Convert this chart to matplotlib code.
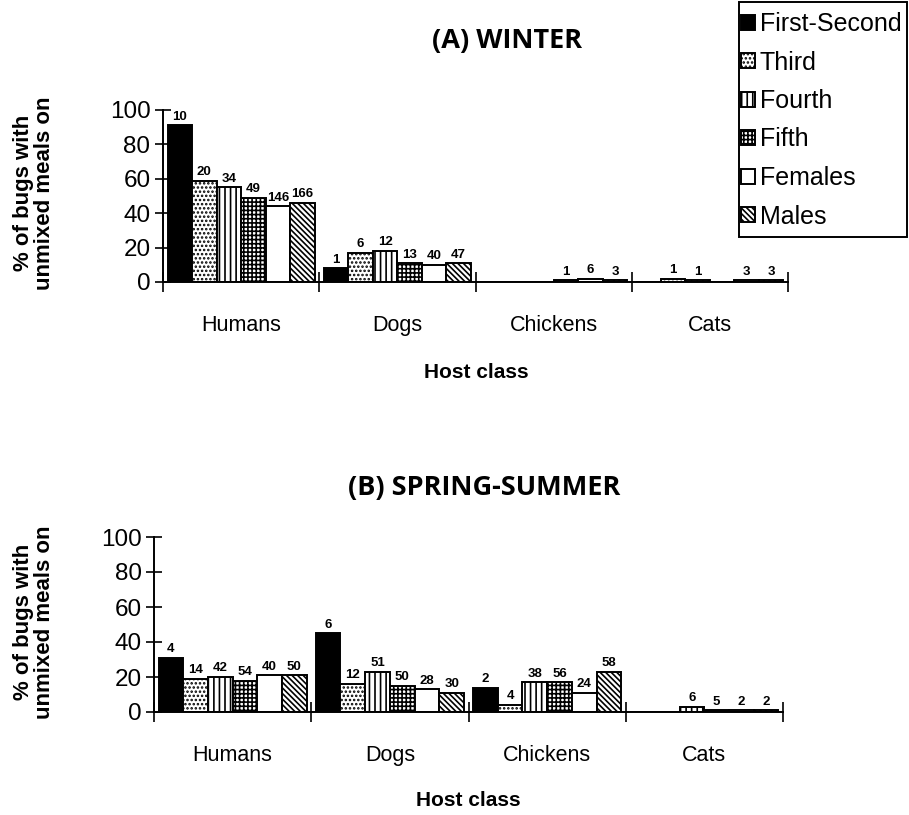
import numpy as np
import matplotlib
matplotlib.use("Agg")
import matplotlib.pyplot as plt
from matplotlib.patches import Patch, Rectangle

# host classes and instar / sex groups
hosts = ["Humans", "Dogs", "Chickens", "Cats"]
stages = ["First-Second", "Third", "Fourth", "Fifth", "Females", "Males"]

# % of bugs with unmixed meals, rows = stages, cols = hosts
winter_pct = [
    [91, 8, 0, 0],    # First-Second
    [59, 17, 0, 2],   # Third
    [55, 18, 0, 1],   # Fourth
    [49, 11, 1, 0],   # Fifth
    [44, 10, 2, 1],   # Females
    [46, 11, 1, 1],   # Males
]
winter_n = [
    ["10", "1", "", ""],
    ["20", "6", "", "1"],
    ["34", "12", "", "1"],
    ["49", "13", "1", ""],
    ["146", "40", "6", "3"],
    ["166", "47", "3", "3"],
]

spring_pct = [
    [31, 45, 14, 0],
    [19, 16, 4, 0],
    [20, 23, 17, 3],
    [18, 15, 17, 1],
    [21, 13, 11, 1],
    [21, 11, 23, 1],
]
spring_n = [
    ["4", "6", "2", ""],
    ["14", "12", "4", ""],
    ["42", "51", "38", "6"],
    ["54", "50", "56", "5"],
    ["40", "28", "24", "2"],
    ["50", "30", "58", "2"],
]

# fill styles for each stage
faces = ["black", "white", "white", "white", "white", "white"]
hatches = [None, "....", "|||", "++++", None, "\\\\\\\\\\\\"]

plt.rcParams["font.family"] = ["Liberation Sans", "DejaVu Sans"]
plt.rcParams["hatch.linewidth"] = 1.2

fig = plt.figure(figsize=(9.09, 8.15), dpi=100)
W, H = 909.0, 815.0


def panel(left, right, top, bottom, pct, nlab):
    ax = fig.add_axes([left / W, 1 - bottom / H, (right - left) / W, (bottom - top) / H])
    w = 0.157
    x = np.arange(len(hosts))
    for k in range(len(stages)):
        xs = x + (k - 2.5) * w
        ax.bar(xs, pct[k], width=w, color=faces[k], edgecolor="black",
               hatch=hatches[k], linewidth=1.4)
        for xi, h, t in zip(xs, pct[k], nlab[k]):
            if t:
                ax.text(xi, h + 1.5, t, ha="center", va="bottom",
                        fontsize=9.5, fontweight="bold")
    ax.set_xlim(-0.5, 3.5)
    ax.set_ylim(0, 100)
    for s in ["top", "right"]:
        ax.spines[s].set_visible(False)
    for s in ["left", "bottom"]:
        ax.spines[s].set_linewidth(1.4)
    ax.set_yticks(range(0, 101, 20))
    ax.tick_params(axis="y", direction="inout", length=12, width=1.2,
                   labelsize=17.5, pad=3)
    ax.set_xticks(np.arange(-0.5, 4, 1.0))
    ax.set_xticklabels([])
    ax.tick_params(axis="x", which="major", direction="inout", length=14, width=1.2)
    ax.set_xticks(x, minor=True)
    ax.set_xticklabels(hosts, minor=True)
    ax.tick_params(axis="x", which="minor", length=0, labelsize=15.5, pad=24)
    return ax


panel(163, 788, 110, 282, winter_pct, winter_n)
panel(154, 783, 537, 712, spring_pct, spring_n)

fig.text(507 / W, 1 - 41 / H, "(A) WINTER", ha="center", va="center",
         fontsize=19.5, fontweight="bold", family=["Open Sans", "DejaVu Sans"])
fig.text(484 / W, 1 - 488 / H, "(B) SPRING-SUMMER", ha="center", va="center",
         fontsize=19.5, fontweight="bold", family=["Open Sans", "DejaVu Sans"])

fig.text(476 / W, 1 - 373 / H, "Host class", ha="center", va="center",
         fontsize=15, fontweight="bold")
fig.text(468 / W, 1 - 801 / H, "Host class", ha="center", va="center",
         fontsize=15, fontweight="bold")

ylab = "% of bugs with\nunmixed meals on"
fig.text(34 / W, 1 - 193 / H, ylab, rotation=90, ha="center", va="center",
         fontsize=16, fontweight="bold", multialignment="center", linespacing=1.05)
fig.text(34 / W, 1 - 622 / H, ylab, rotation=90, ha="center", va="center",
         fontsize=16, fontweight="bold", multialignment="center", linespacing=1.05)

# legend box drawn on its own so the padding can differ from the text spacing
fig.patches.append(Rectangle((739 / W, 1 - 237 / H), (907 - 739) / W, 235 / H,
                             transform=fig.transFigure, fill=False,
                             edgecolor="black", linewidth=1.4))
handles = [Patch(facecolor=faces[k], edgecolor="black", hatch=hatches[k], linewidth=1.4)
           for k in range(len(stages))]
fig.legend(handles, stages, loc="upper left", bbox_to_anchor=(736 / W, 1 - 7 / H),
           borderaxespad=0, fontsize=18, handlelength=0.55, handleheight=0.55,
           handletextpad=0.2, labelspacing=0.58, borderpad=0.2, frameon=False)

fig.savefig("out.png", dpi=100)
